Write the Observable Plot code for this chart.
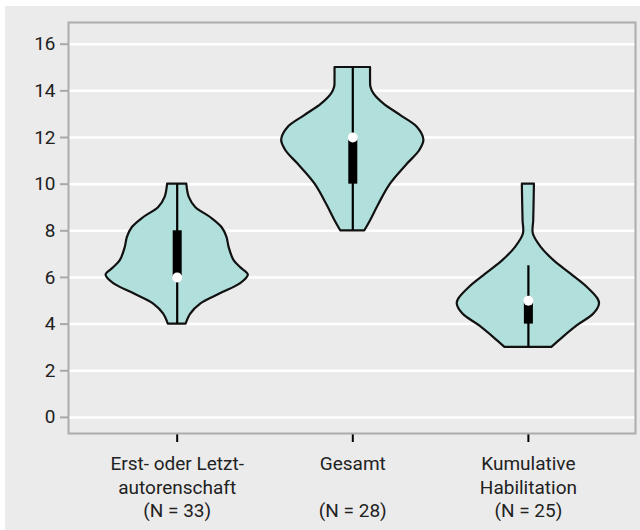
<!DOCTYPE html>
<html><head><meta charset="utf-8">
<script src="https://cdn.jsdelivr.net/npm/d3@7"></script>
<script src="https://cdn.jsdelivr.net/npm/@observablehq/plot@0.6"></script>
<style>
html,body{margin:0;padding:0;background:#fff;}
#wrap{position:absolute;left:5px;top:6px;width:635px;height:524px;background:#ebebeb;}
</style></head><body><div id="wrap"></div>
<script>
const categories = ["Erst- oder Letzt-\nautorenschaft\n(N = 33)", "Gesamt\n\n(N = 28)", "Kumulative\nHabilitation\n(N = 25)"];
const yTicks = [0, 2, 4, 6, 8, 10, 12, 14, 16];

// violin profiles: value and relative density (max = 1)
const v1Values  = [4.0, 4.43, 4.86, 5.29, 5.71, 6.1, 6.4, 6.72, 7.29, 7.72, 8.14, 8.57, 9.0, 9.43, 10.0];
const v1Density = [0.125, 0.19, 0.33, 0.6, 0.88, 1.0, 0.9, 0.8, 0.73, 0.7, 0.63, 0.47, 0.26, 0.17, 0.135];
const v2Values  = [8.0, 8.43, 9.15, 10.0, 10.86, 11.43, 11.89, 12.43, 12.93, 13.43, 13.86, 14.15, 14.5, 15.0];
const v2Density = [0.17, 0.25, 0.37, 0.53, 0.77, 0.94, 1.0, 0.91, 0.68, 0.44, 0.3, 0.255, 0.25, 0.25];
const v3Values  = [3.0, 3.43, 3.93, 4.43, 4.86, 5.07, 5.57, 6.14, 6.72, 7.29, 7.86, 8.43, 9.15, 10.0];
const v3Density = [0.33, 0.49, 0.69, 0.92, 1.0, 0.98, 0.83, 0.6, 0.36, 0.18, 0.07, 0.075, 0.08, 0.085];

// box plot statistics
const whiskerMin = [4, 8, 3];
const whiskerMax = [10, 15, 6.5];
const q1 = [6, 10, 4];
const q3 = [8, 12, 5];
const median = [6, 12, 5];

const halfWidth = 0.405; // x units for density 1
const profiles = [[v1Values, v1Density], [v2Values, v2Density], [v3Values, v3Density]];
const rows = [];
profiles.forEach(([vals, dens], i) => {
  vals.forEach((v, j) => rows.push({g: i, v, x1: i + 1 - dens[j] * halfWidth, x2: i + 1 + dens[j] * halfWidth}));
});
const stats = categories.map((c, i) => ({cx: i + 1, min: whiskerMin[i], max: whiskerMax[i], q1: q1[i], q3: q3[i], med: median[i]}));

const chart = Plot.plot({
  width: 635, height: 524,
  marginLeft: 63, marginRight: 5, marginTop: 16, marginBottom: 97,
  style: {background: "transparent", fontFamily: "Roboto, sans-serif", fontSize: "19px", color: "#222"},
  x: {type: "linear", domain: [0.381, 3.61]},
  y: {domain: [-0.69, 16.93]},
  marks: [
    Plot.ruleY(yTicks, {stroke: "white", strokeWidth: 2.5}),
    Plot.areaX(rows, {y: "v", x1: "x1", x2: "x2", z: "g", fill: "#b1dfdb", stroke: "#111", strokeWidth: 2.2, curve: "catmull-rom"}),
    Plot.ruleX(stats, {x: "cx", y1: "min", y2: "max", stroke: "#000", strokeWidth: 2.2}),
    Plot.ruleX(stats, {x: "cx", y1: "q1", y2: "q3", stroke: "#000", strokeWidth: 9}),
    Plot.dot(stats, {x: "cx", y: "med", r: 5, fill: "white", stroke: null}),
    Plot.axisY({ticks: yTicks, tickSize: 8, tickPadding: 5, stroke: "#a8a8a8", strokeWidth: 2, fill: "#222", label: null}),
    Plot.axisX({ticks: [1, 2, 3], tickFormat: d => categories[d - 1], tickSize: 9, tickPadding: 11, stroke: "#000", strokeWidth: 2, fill: "#222", lineHeight: 1.24, label: null}),
    Plot.frame({stroke: "#acacac", strokeWidth: 2})
  ]
});
document.getElementById("wrap").appendChild(chart);
</script></body></html>
